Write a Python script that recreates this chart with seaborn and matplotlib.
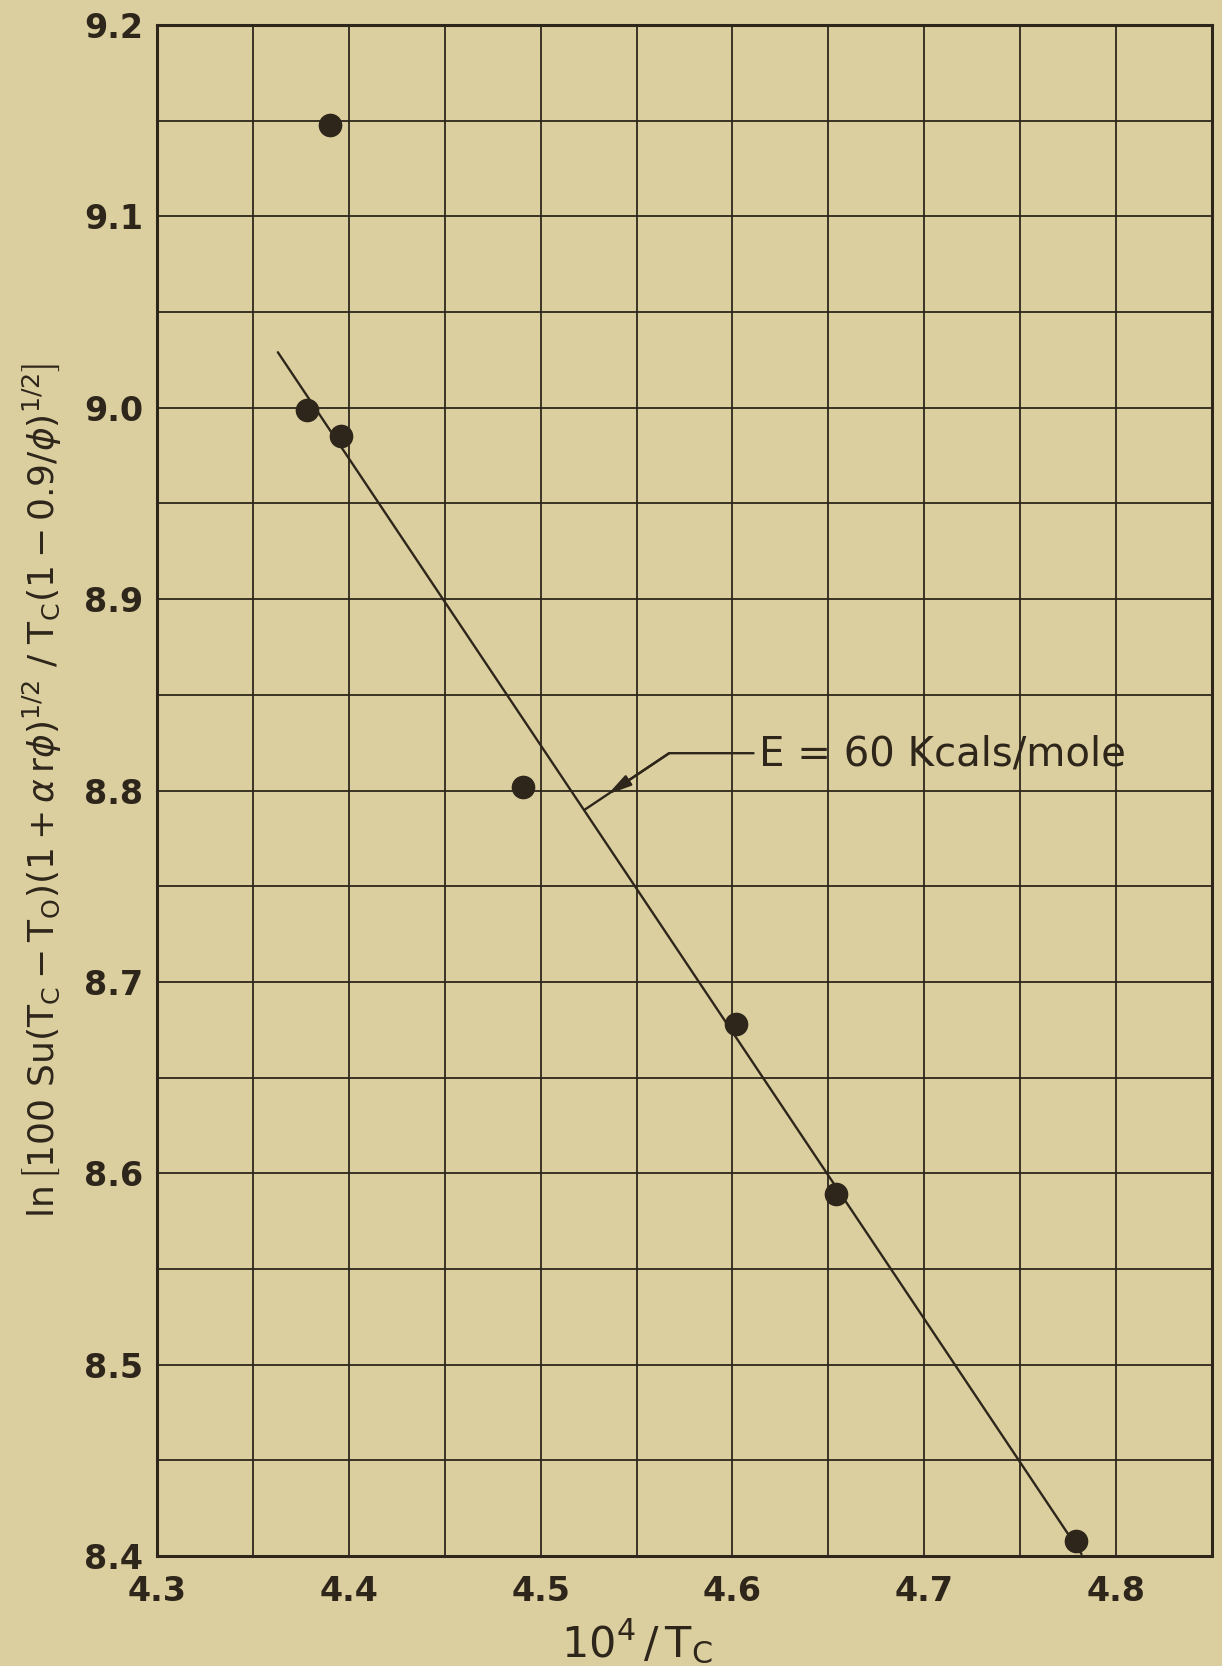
import matplotlib
matplotlib.use("Agg")
import matplotlib.pyplot as plt
import seaborn as sns
import numpy as np
import pandas as pd
from matplotlib.ticker import MultipleLocator, FixedLocator

# ---- data ----
x_pts = [4.390, 4.378, 4.396, 4.491, 4.602, 4.654, 4.779]
y_pts = [9.148, 8.999, 8.985, 8.802, 8.678, 8.589, 8.408]
fit_x = [4.363, 4.782]
fit_y = [9.029, 8.401]
x_ticks = [4.3, 4.4, 4.5, 4.6, 4.7, 4.8]
x_ticklabels = ["4.3", "4.4", "4.5", "4.6", "4.7", "4.8"]
y_ticks = [8.4, 8.5, 8.6, 8.7, 8.8, 8.9, 9.0, 9.1, 9.2]
y_ticklabels = ["8.4", "8.5", "8.6", "8.7", "8.8", "8.9", "9.0", "9.1", "9.2"]
annot_text = "E = 60 Kcals/mole"
annot_text_xy = (4.614, 8.819)
annot_bend_xy = (4.567, 8.8195)
annot_tip_xy = (4.523, 8.790)
annot_head_xy = (4.535, 8.798)

PAPER = "#dccf9f"
INK = "#2e261b"

sns.set_theme(style="white")
plt.rcParams['font.family'] = ['DejaVu Sans']
plt.rcParams['mathtext.fontset'] = 'dejavusans'

fig = plt.figure(figsize=(12.22, 16.66), dpi=100, facecolor=PAPER)
ax = fig.add_axes([0.1285, 0.066, 0.8633, 0.919])
ax.set_facecolor(PAPER)

df_pts = pd.DataFrame({"x": x_pts, "y": y_pts})
df_fit = pd.DataFrame({"x": fit_x, "y": fit_y})

sns.lineplot(data=df_fit, x="x", y="y", ax=ax, color=INK, linewidth=1.7, zorder=3)
sns.scatterplot(data=df_pts, x="x", y="y", ax=ax, color=INK, s=290,
                edgecolor=INK, linewidth=0, zorder=4)

ax.set_xlim(4.3, 4.85)
ax.set_ylim(8.4, 9.2)

ax.xaxis.set_major_locator(FixedLocator(x_ticks))
ax.yaxis.set_major_locator(FixedLocator(y_ticks))
ax.xaxis.set_minor_locator(MultipleLocator(0.05))
ax.yaxis.set_minor_locator(MultipleLocator(0.05))
ax.set_xticklabels(x_ticklabels)
ax.set_yticklabels(y_ticklabels)
ax.grid(True, which="both", color=INK, linewidth=1.3)
ax.set_axisbelow(True)
ax.tick_params(which="both", length=0, labelsize=24, colors=INK)
ax.tick_params(axis="x", pad=14)
ax.tick_params(axis="y", pad=10)
for lab in ax.get_xticklabels() + ax.get_yticklabels():
    lab.set_fontweight("bold")
for sp in ax.spines.values():
    sp.set_color(INK)
    sp.set_linewidth(2.2)
    sp.set_visible(True)

ax.set_xlabel(r"$10^{4}\,/\,\mathrm{T}_{\mathrm{C}}$", fontsize=31, color=INK)
ax.xaxis.set_label_coords(0.455, -0.040)
ax.set_ylabel(r"$\ln\left[100\ \mathrm{Su}(\mathrm{T}_{\mathrm{C}}-\mathrm{T}_{\mathrm{O}})"
              r"(1+\alpha\,\mathrm{r}\phi)^{1/2}\ /\ \mathrm{T}_{\mathrm{C}}(1-0.9/\phi)^{1/2}\right]$",
              fontsize=26, color=INK)
ax.yaxis.set_label_coords(-0.088, 0.5)

# annotation leader
ax.text(annot_text_xy[0], annot_text_xy[1], annot_text, fontsize=29, color=INK,
        ha="left", va="center")
ax.plot([annot_text_xy[0] - 0.003, annot_bend_xy[0], annot_tip_xy[0]],
        [annot_bend_xy[1], annot_bend_xy[1], annot_tip_xy[1]],
        color=INK, linewidth=1.7, zorder=3)
ax.annotate("", xy=annot_head_xy, xytext=annot_bend_xy,
            arrowprops=dict(arrowstyle="-|>,head_length=1.2,head_width=0.3",
                            color=INK, lw=1.7, shrinkA=0, shrinkB=0))

fig.savefig("out.png", dpi=100, facecolor=PAPER)
